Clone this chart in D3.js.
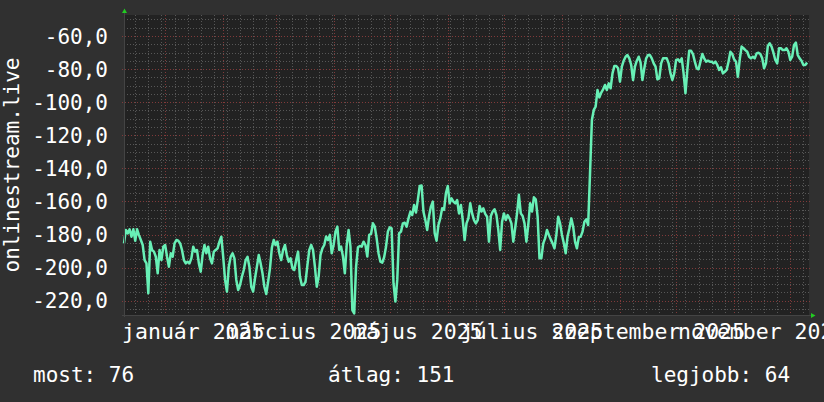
<!DOCTYPE html>
<html><head><meta charset="utf-8">
<script src="https://cdn.jsdelivr.net/npm/d3@7"></script>
<style>html,body{margin:0;padding:0;background:#303030;} svg{display:block;}</style>
</head><body>
<svg id="chart" width="824" height="402"></svg>
<script>
// ---- data ----
const startDate = "2024-12-10";
const domainStart = "2024-12-10";
const domainEnd = "2025-12-11";
const values = [
-185.3,-177.2,-179.3,-176.8,-181.3,-176.8,-183.7,-176.8,-180.3,-183.3,
-186.3,-195.4,-197.4,-215.5,-184.3,-189.3,-190.3,-193.4,-203.4,-189.3,
-195.4,-187.3,-186.3,-193.4,-199.4,-191.3,-193.4,-185.3,-183.3,-183.7,
-185.3,-189.3,-195.4,-197.4,-196.4,-197.4,-194.4,-187.3,-190.3,-189.3,
-197.4,-202.4,-192.3,-186.3,-191.3,-187.3,-194.4,-197.4,-190.3,-189.3,
-188.3,-184.3,-181.3,-193.4,-207.4,-214.5,-199.4,-193.4,-191.3,-194.4,
-207.4,-213.5,-210.5,-205.4,-201.4,-195.4,-193.4,-199.4,-211.5,-214.5,
-206.4,-199.4,-192.3,-197.4,-203.4,-211.5,-215.9,-208.5,-200.4,-188.0,
-183.3,-186.3,-184.3,-191.3,-195.4,-189.3,-186.3,-192.4,-196.4,-194.4,
-200.4,-201.4,-195.3,-190.3,-205.4,-210.5,-210.5,-208.4,-198.4,-189.3,
-186.3,-189.3,-199.4,-211.5,-205.4,-192.3,-188.3,-186.3,-181.2,-183.3,
-180.2,-191.3,-186.3,-178.2,-175.2,-189.3,-187.3,-193.3,-203.4,-186.3,
-177.2,-187.3,-225.6,-227.6,-199.4,-187.7,-186.9,-187.3,-184.3,-186.3,
-193.3,-180.2,-179.6,-173.2,-175.2,-182.3,-191.3,-196.4,-197.0,-193.7,
-187.3,-178.2,-175.6,-176.2,-209.4,-220.5,-207.4,-179.2,-178.2,-173.2,
-172.8,-175.2,-170.2,-166.2,-168.2,-162.1,-166.7,-159.1,-150.6,-150.4,
-166.2,-171.2,-177.2,-168.8,-163.1,-160.1,-179.2,-183.7,-174.2,-170.2,
-164.1,-165.1,-155.1,-150.6,-161.1,-158.1,-160.1,-161.1,-159.1,-167.2,
-162.1,-171.2,-183.3,-173.2,-170.2,-161.1,-167.2,-171.2,-173.2,-171.2,
-162.7,-166.1,-164.1,-167.5,-169.2,-184.3,-168.8,-166.1,-164.7,-168.2,
-177.2,-189.3,-172.2,-167.2,-171.2,-168.2,-170.2,-173.2,-184.3,-176.2,
-167.2,-156.0,-167.2,-168.8,-173.2,-184.3,-174.2,-161.1,-166.1,-157.5,
-158.7,-169.2,-194.3,-194.3,-185.3,-182.3,-177.2,-180.2,-182.9,-185.3,
-188.3,-180.2,-169.2,-173.2,-180.2,-185.3,-191.3,-181.2,-176.2,-170.2,
-175.2,-184.3,-188.3,-181.6,-181.2,-178.2,-172.2,-170.8,-174.2,-143.0,
-110.8,-104.7,-102.7,-92.6,-97.1,-94.2,-92.2,-89.6,-92.6,-88.6,
-91.6,-82.6,-78.1,-78.1,-79.5,-87.6,-78.5,-74.9,-72.5,-71.5,
-73.5,-77.5,-86.6,-78.5,-74.9,-72.5,-75.9,-86.6,-79.5,-73.5,
-71.5,-71.5,-73.5,-76.5,-78.5,-86.2,-85.6,-76.5,-73.5,-73.5,
-73.5,-76.5,-82.6,-86.6,-82.6,-74.5,-74.1,-75.5,-73.5,-82.6,
-94.6,-80.5,-68.9,-68.9,-70.9,-75.5,-79.5,-80.1,-75.5,-70.9,
-73.5,-75.5,-74.9,-75.5,-75.5,-76.5,-75.5,-77.5,-80.5,-78.9,
-82.6,-81.6,-80.5,-75.5,-69.5,-70.9,-74.1,-75.5,-84.6,-74.1,
-66.4,-67.4,-68.5,-69.5,-72.5,-73.5,-72.5,-73.5,-70.5,-70.1,
-70.9,-73.5,-79.5,-76.5,-66.0,-64.4,-66.4,-70.1,-74.5,-76.5,
-67.4,-67.4,-68.5,-68.5,-67.4,-69.5,-74.5,-72.5,-65.4,-64.0,
-71.5,-73.5,-74.9,-77.5,-77.5,-76.1
];
const yMajorTicks = [-60,-80,-100,-120,-140,-160,-180,-200,-220];
const yTickLabels = ["-60,0","-80,0","-100,0","-120,0","-140,0","-160,0","-180,0","-200,0","-220,0"];
const xLabelCenters = ["2025-01-16","2025-03-16","2025-05-16","2025-07-16","2025-09-16","2025-11-16"];
const xLabels = ["január 2025","március 2025","május 2025","július 2025","szeptember 2025","november 2025"];
const axisTitle = "onlinestream.live";
const legendTexts = ["most: 76","átlag: 151","legjobb: 64"];
const yDomain = [-228.6, -47.3];

// ---- layout ----
const W = 824, H = 402;
const plot = {left:124, right:809, top:15, bottom:315};
const FONT = "'DejaVu Sans Mono', monospace";
const parse = d3.timeParse("%Y-%m-%d");
const t0 = parse(startDate);
const data = values.map((v,i)=>({date:d3.timeDay.offset(t0,i), value:v}));

const svg = d3.select("#chart");
svg.append("rect").attr("width",W).attr("height",H).attr("fill","#303030");
svg.append("rect").attr("x",plot.left).attr("y",plot.top)
  .attr("width",plot.right-plot.left).attr("height",plot.bottom-plot.top).attr("fill","#222222");

const x = d3.scaleTime().domain([parse(domainStart), parse(domainEnd)]).range([plot.left, plot.right]);
const y = d3.scaleLinear().domain(yDomain).range([plot.bottom, plot.top]);

const MINOR = "#575757", MAJOR = "#803a3a", DASH = "1,2";
const grid = svg.append("g");
const minorY = d3.range(-225, -45, 5).filter(v => v % 20 !== 0 && y(v) >= plot.top && y(v) <= plot.bottom);
grid.selectAll(".hmin").data(minorY).join("line")
  .attr("x1",plot.left).attr("x2",plot.right+2)
  .attr("y1",d=>Math.round(y(d))+0.5).attr("y2",d=>Math.round(y(d))+0.5)
  .attr("stroke",MINOR).attr("stroke-width",1).attr("stroke-dasharray",DASH);
const mondays = d3.timeMonday.range(x.domain()[0], x.domain()[1]);
grid.selectAll(".vmin").data(mondays).join("line")
  .attr("x1",d=>Math.round(x(d))+0.5).attr("x2",d=>Math.round(x(d))+0.5)
  .attr("y1",plot.top).attr("y2",plot.bottom+2)
  .attr("stroke",MINOR).attr("stroke-width",1).attr("stroke-dasharray",DASH);
grid.selectAll(".hmaj").data(yMajorTicks).join("line")
  .attr("x1",plot.left-2).attr("x2",plot.right+2)
  .attr("y1",d=>Math.round(y(d))+0.5).attr("y2",d=>Math.round(y(d))+0.5)
  .attr("stroke",MAJOR).attr("stroke-width",1).attr("stroke-dasharray",DASH);
const months = d3.timeMonth.range(x.domain()[0], x.domain()[1]);
grid.selectAll(".vmaj").data(months).join("line")
  .attr("x1",d=>Math.round(x(d))+0.5).attr("x2",d=>Math.round(x(d))+0.5)
  .attr("y1",plot.top).attr("y2",plot.bottom+3)
  .attr("stroke",MAJOR).attr("stroke-width",1).attr("stroke-dasharray",DASH);

// data line
const line = d3.line().x(d=>x(d.date)).y(d=>y(d.value));
svg.append("path").datum(data).attr("d",line)
  .attr("fill","none").attr("stroke","#68f0b6").attr("stroke-width",2.5)
  .attr("stroke-linejoin","round");

// axes lines
svg.append("line").attr("x1",plot.left+0.5).attr("x2",plot.left+0.5).attr("y1",plot.bottom+2).attr("y2",11)
  .attr("stroke","#444444");
svg.append("line").attr("x1",plot.left-2).attr("x2",812).attr("y1",plot.bottom+0.5).attr("y2",plot.bottom+0.5)
  .attr("stroke","#444444");
// arrows
svg.append("path").attr("d",`M${plot.left-2},13 L${plot.left+3},13 L${plot.left+0.5},8.5 Z`).attr("fill","#22cc22");
svg.append("path").attr("d",`M811,${plot.bottom-2} L811,${plot.bottom+3} L815.5,${plot.bottom+0.5} Z`).attr("fill","#22cc22");

// y labels
svg.append("g").selectAll("text").data(yMajorTicks).join("text")
  .attr("x",108).attr("y",d=>y(d)).attr("dy","0.36em")
  .attr("text-anchor","end").attr("fill","#ffffff")
  .attr("font-family",FONT).attr("font-size",21)
  .text((d,i)=>yTickLabels[i]);

// x labels
svg.append("g").selectAll("text").data(xLabelCenters).join("text")
  .attr("x",d=>x(parse(d))).attr("y",339)
  .attr("text-anchor","middle").attr("fill","#ffffff")
  .attr("font-family",FONT).attr("font-size",21.5)
  .text((d,i)=>xLabels[i]);

// axis title
svg.append("text").attr("transform",`translate(19,${(plot.top+plot.bottom)/2}) rotate(-90)`)
  .attr("text-anchor","middle").attr("fill","#ffffff")
  .attr("font-family",FONT).attr("font-size",21)
  .text(axisTitle);

// legend
const legendX = [33, 328, 651];
svg.append("g").selectAll("text").data(legendTexts).join("text")
  .attr("x",(d,i)=>legendX[i]).attr("y",382)
  .attr("fill","#ffffff").attr("font-family",FONT).attr("font-size",21)
  .text(d=>d);
</script>
</body></html>
